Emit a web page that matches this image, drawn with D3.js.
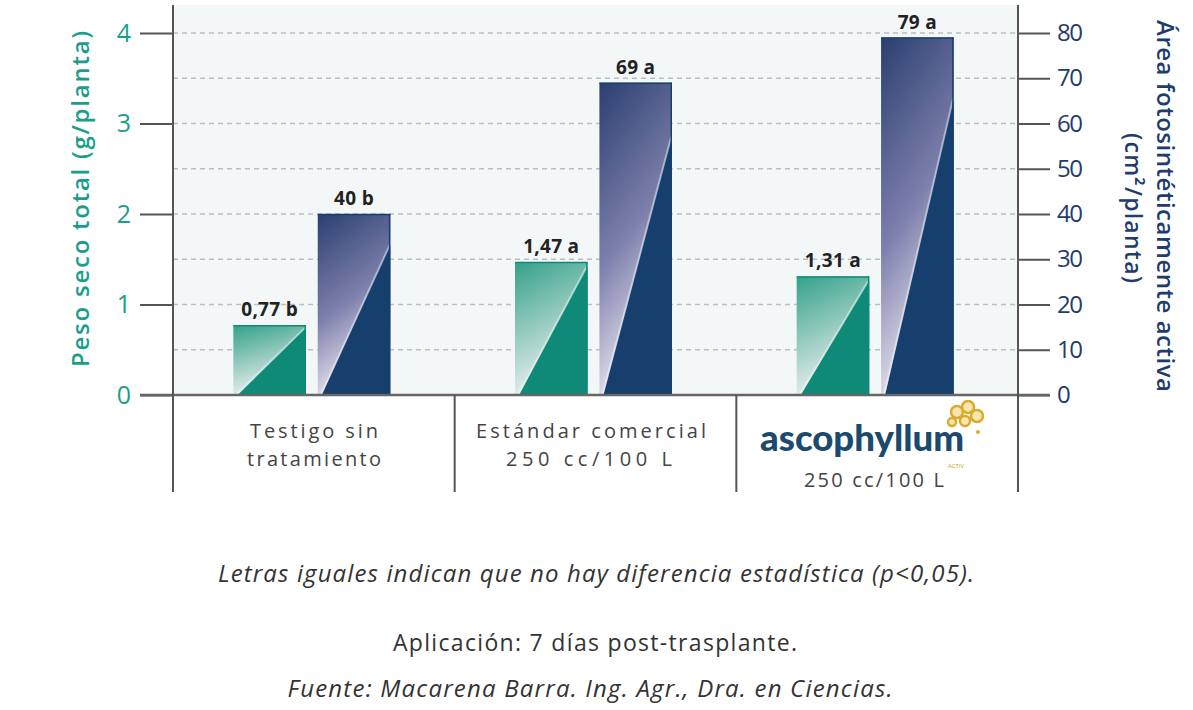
<!DOCTYPE html>
<html>
<head>
<meta charset="utf-8">
<script src="https://cdn.jsdelivr.net/npm/d3@7"></script>
<style>
body { margin: 0; background: #fff; }
</style>
</head>
<body>
<svg class="chartsvg" width="1193" height="710" font-family="Open Sans, sans-serif"></svg>
<script>
// data
var categories = ["Testigo sin tratamiento", "Estándar comercial 250 cc/100 L", "ascophyllum 250 cc/100 L"];
var pesoSeco = [0.77, 1.47, 1.31];
var pesoLetters = ["0,77 b", "1,47 a", "1,31 a"];
var areaFoto = [40, 69, 79];
var areaLetters = ["40 b", "69 a", "79 a"];
var leftTicks = [0, 1, 2, 3, 4];
var rightTicks = [0, 10, 20, 30, 40, 50, 60, 70, 80];
var gridTicks = [10, 20, 30, 40, 50, 60, 70, 80];

var margin = {top: 5, left: 173, right: 1018, base: 395, bottom: 492};
var teal = "#0f8a78", navy = "#173f6d";

var svg = d3.select(".chartsvg");
var defs = svg.append("defs");

var gTeal = defs.append("linearGradient").attr("id", "gradTeal")
    .attr("x1", 0).attr("y1", 0).attr("x2", 0.3).attr("y2", 1);
gTeal.append("stop").attr("offset", "0%").attr("stop-color", "#34a188");
gTeal.append("stop").attr("offset", "100%").attr("stop-color", "#eef1f1");

var gNavy = defs.append("linearGradient").attr("id", "gradNavy")
    .attr("x1", 0).attr("y1", 0).attr("x2", 0.3).attr("y2", 1);
gNavy.append("stop").attr("offset", "0%").attr("stop-color", "#2a3f70");
gNavy.append("stop").attr("offset", "55%").attr("stop-color", "#7d7fac");
gNavy.append("stop").attr("offset", "100%").attr("stop-color", "#ecebf3");

var x = d3.scaleBand().domain(categories).range([margin.left, margin.right]);
var xSub = d3.scaleBand().domain(["peso", "area"]).range([0, 157]).paddingInner(0.14);
var yL = d3.scaleLinear().domain([0, 4]).range([margin.base, 33]);
var yR = d3.scaleLinear().domain([0, 80]).range([margin.base, 33]);

// plot background
svg.append("rect")
    .attr("x", margin.left).attr("y", margin.top)
    .attr("width", margin.right - margin.left).attr("height", margin.base - margin.top)
    .attr("fill", "#f3f7f8");

// dashed grid
svg.append("g").attr("class", "grid")
    .selectAll("line").data(gridTicks).enter().append("line")
    .attr("x1", margin.left).attr("x2", margin.right)
    .attr("y1", function(d) { return yR(d); }).attr("y2", function(d) { return yR(d); })
    .attr("stroke", "#babec2").attr("stroke-width", 1.5)
    .attr("stroke-dasharray", "5,4");

// bars: gradient rect, solid triangle lower right
function drawBar(g, x0, w, yTop, yBot, grad, solid, rise)
{
    var h = yBot - yTop;
    g.append("rect").attr("x", x0).attr("y", yTop).attr("width", w).attr("height", h)
        .attr("fill", "url(#" + grad + ")");
    var diagTop = yBot - h * rise;
    g.append("path")
        .attr("d", "M" + (x0 + 4) + "," + yBot + "L" + (x0 + w) + "," + diagTop + "L" + (x0 + w) + "," + yBot + "Z")
        .attr("fill", solid);
    g.append("line")
        .attr("x1", x0 + 3).attr("y1", yBot).attr("x2", x0 + w - 0.5).attr("y2", diagTop)
        .attr("stroke", "#ffffff").attr("stroke-opacity", 0.45).attr("stroke-width", 2);
    g.append("line").attr("x1", x0).attr("x2", x0 + w).attr("y1", yTop + 0.5).attr("y2", yTop + 0.5)
        .attr("stroke", solid).attr("stroke-width", 1.5);
    g.append("line").attr("x1", x0 + w - 0.75).attr("x2", x0 + w - 0.75).attr("y1", yTop).attr("y2", yBot)
        .attr("stroke", solid).attr("stroke-width", 1.5);
}

var offset = (x.bandwidth() - 157) / 2 - 2;
var bars = svg.append("g").attr("class", "bars");
categories.forEach(function(c, i) {
    var bx = x(c) + offset;
    var xp = bx + xSub("peso"), xa = bx + xSub("area"), w = xSub.bandwidth();
    drawBar(bars, xp, w, yL(pesoSeco[i]), margin.base, "gradTeal", teal, 0.97);
    drawBar(bars, xa, w, yR(areaFoto[i]), margin.base, "gradNavy", navy, 0.83);
    bars.append("text")
        .attr("x", xp + w / 2).attr("y", yL(pesoSeco[i]) - 9)
        .attr("text-anchor", "middle").attr("font-size", 19).attr("font-weight", "bold")
        .attr("fill", "#222").attr("letter-spacing", 0.3)
        .text(pesoLetters[i]);
    bars.append("text")
        .attr("x", xa + w / 2).attr("y", yR(areaFoto[i]) - 9)
        .attr("text-anchor", "middle").attr("font-size", 19).attr("font-weight", "bold")
        .attr("fill", "#222").attr("letter-spacing", 0.3)
        .text(areaLetters[i]);
});

// axes
var leftAxis = svg.append("g").attr("class", "leftaxis")
    .attr("transform", "translate(" + margin.left + ",0)")
    .call(d3.axisLeft(yL).tickValues(leftTicks).tickFormat(d3.format("d")).tickSize(33).tickPadding(9));
leftAxis.select(".domain").remove();
leftAxis.selectAll("line").attr("stroke", "#555").attr("stroke-width", 2);
leftAxis.selectAll("text").attr("fill", "#1a9e8a").attr("font-size", 25)
    .attr("font-family", "Open Sans, sans-serif");

var rightAxis = svg.append("g").attr("class", "rightaxis")
    .attr("transform", "translate(" + margin.right + ",0)")
    .call(d3.axisRight(yR).tickValues(rightTicks).tickSize(32).tickPadding(7));
rightAxis.select(".domain").remove();
rightAxis.selectAll("line").attr("stroke", "#555").attr("stroke-width", 2);
rightAxis.selectAll("text").attr("fill", "#1e3c6c").attr("font-size", 24)
    .attr("font-family", "Open Sans, sans-serif").attr("letter-spacing", -1.5);

// frame lines
var frame = svg.append("g").attr("class", "frame");
frame.append("line").attr("x1", 140).attr("x2", 1050)
    .attr("y1", margin.base).attr("y2", margin.base)
    .attr("stroke", "#666").attr("stroke-width", 2.5);
[margin.left, margin.right].forEach(function(v) {
    frame.append("line").attr("x1", v).attr("x2", v)
        .attr("y1", margin.top).attr("y2", margin.bottom)
        .attr("stroke", "#555").attr("stroke-width", 2);
});
categories.slice(1).forEach(function(c) {
    frame.append("line").attr("x1", x(c)).attr("x2", x(c))
        .attr("y1", margin.base).attr("y2", margin.bottom)
        .attr("stroke", "#555").attr("stroke-width", 2);
});

// axis titles
svg.append("text")
    .attr("transform", "translate(89,199) rotate(-90)")
    .attr("text-anchor", "middle").attr("font-size", 24).attr("font-weight", 600)
    .attr("fill", "#1a9e8a").attr("textLength", 336).attr("lengthAdjust", "spacing")
    .text("Peso seco total (g/planta)");
svg.append("text")
    .attr("transform", "translate(1157,206) rotate(90)")
    .attr("text-anchor", "middle").attr("font-size", 24).attr("font-weight", 600)
    .attr("fill", "#1e3c6c").attr("textLength", 372).attr("lengthAdjust", "spacing")
    .text("Área fotosintéticamente activa");
svg.append("text")
    .attr("transform", "translate(1125,208) rotate(90)")
    .attr("text-anchor", "middle").attr("font-size", 23).attr("font-weight", 600)
    .attr("fill", "#1e3c6c").attr("textLength", 150).attr("lengthAdjust", "spacing")
    .text("(cm²/planta)");

// category labels
var catg = svg.append("g").attr("class", "catlabels").attr("fill", "#444");
function catText(cx, y, len, s)
{
    catg.append("text").attr("x", cx).attr("y", y).attr("text-anchor", "middle")
        .attr("font-size", 20).attr("textLength", len).attr("lengthAdjust", "spacing").text(s);
}
catText(314, 438, 128, "Testigo sin");
catText(314, 466, 134, "tratamiento");
catText(591, 438, 230, "Estándar comercial");
catText(589, 466, 166, "250 cc/100 L");
catText(874, 487, 140, "250 cc/100 L");

// ascophyllum logo
var logo = svg.append("g").attr("class", "logo");
logo.append("text").attr("x", 862).attr("y", 451).attr("text-anchor", "middle")
    .attr("font-family", "Lato, sans-serif").attr("font-size", 36).attr("font-weight", "900")
    .attr("textLength", 204).attr("lengthAdjust", "spacingAndGlyphs").attr("fill", "#1b4a6e")
    .text("ascophyllum");
logo.append("text").attr("x", 956).attr("y", 468).attr("text-anchor", "middle")
    .attr("font-size", 6).attr("fill", "#c9a227").text("ACTIV");
[[957, 412, 6], [968, 407, 6], [977, 416, 6], [965, 421, 5], [952, 422, 4]].forEach(function(p) {
    logo.append("circle").attr("cx", p[0]).attr("cy", p[1]).attr("r", p[2])
        .attr("fill", "#f6e7b0").attr("stroke", "#d9ab2e").attr("stroke-width", 2.5);
});
logo.append("circle").attr("cx", 978).attr("cy", 432).attr("r", 2).attr("fill", "#d9ab2e");

// footer
var foot = svg.append("g").attr("class", "footer").attr("fill", "#333");
foot.append("text").attr("x", 596).attr("y", 582).attr("text-anchor", "middle")
    .attr("font-style", "italic").attr("font-size", 24)
    .attr("textLength", 756).attr("lengthAdjust", "spacing")
    .text("Letras iguales indican que no hay diferencia estadística (p<0,05).");
foot.append("text").attr("x", 595).attr("y", 651).attr("text-anchor", "middle")
    .attr("font-size", 23).attr("textLength", 404).attr("lengthAdjust", "spacing")
    .text("Aplicación: 7 días post-trasplante.");
foot.append("text").attr("x", 590).attr("y", 697).attr("text-anchor", "middle")
    .attr("font-style", "italic").attr("font-size", 24)
    .attr("textLength", 605).attr("lengthAdjust", "spacing")
    .text("Fuente: Macarena Barra. Ing. Agr., Dra. en Ciencias.");
</script>
</body>
</html>
